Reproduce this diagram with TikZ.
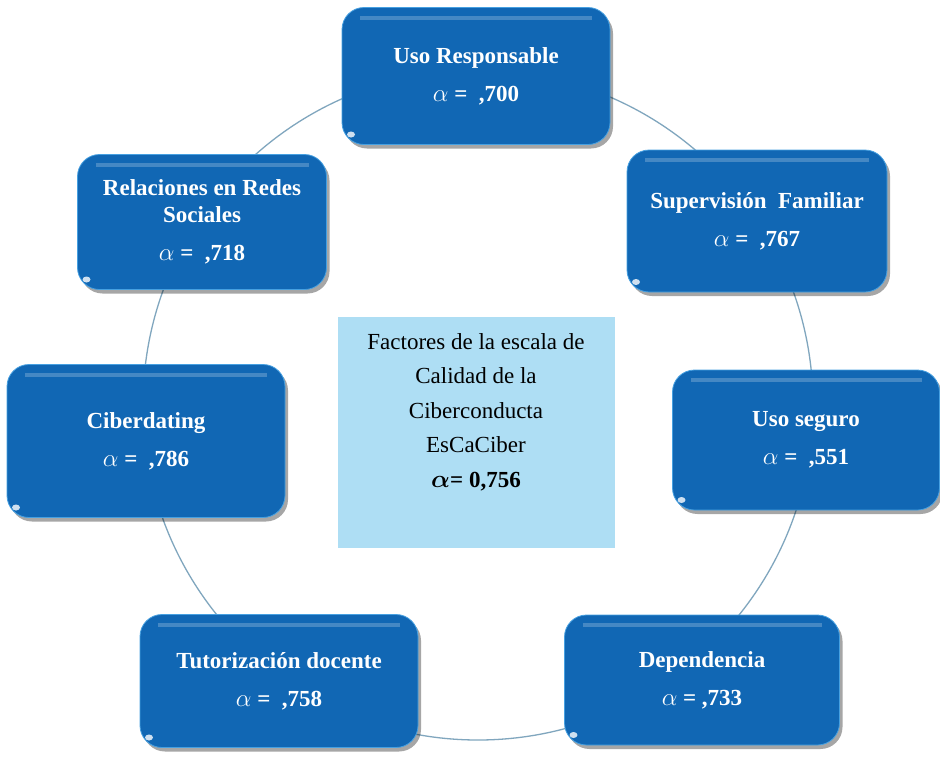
\documentclass[tikz,border=0pt]{standalone}
\usepackage{fontspec}
\setmainfont{Liberation Serif}
\usetikzlibrary{shadows}
\definecolor{factorblue}{RGB}{17,103,180}
\definecolor{factoredge}{RGB}{70,160,225}
\definecolor{ringgray}{RGB}{128,166,190}
\definecolor{coresky}{RGB}{174,222,244}

\begin{document}
\begin{tikzpicture}[x=1pt, y=-1pt,
  factor/.style={draw=factoredge, line width=0.8pt, fill=factorblue,
                 rounded corners=22pt, align=center, text=white,
                 font=\fontsize{23}{27}\selectfont\bfseries,
                 drop shadow={shadow xshift=3pt, shadow yshift=-4pt,
                              opacity=0.35, fill=black},
                 path picture={
                   \draw[sharp corners, white, opacity=0.22, line width=4pt]
                     ([xshift=18pt,yshift=-10pt]path picture bounding box.north west) --
                     ([xshift=-18pt,yshift=-10pt]path picture bounding box.north east);
                   \fill[sharp corners, white, opacity=0.8]
                     ([xshift=9pt,yshift=10pt]path picture bounding box.south west)
                     ellipse [x radius=4pt, y radius=3pt];
                 }},
  core/.style={fill=coresky, minimum width=277, minimum height=231},
  coretext/.style={align=center, font=\fontsize{23}{34.5}\selectfont},
  ring/.style={draw=ringgray, line width=1.3pt}
]
\fill[white] (0,0) rectangle (940,756);
\useasboundingbox (0,0) rectangle (940,756);

\coordinate (hub) at (478,405);
\draw[ring] (hub) circle[radius=335pt];

\node[factor, minimum width=268, minimum height=137] (responsable)  at (476,76)  {%
  Uso Responsable \\[11pt] $\alpha$ =\ \ ,700};
\node[factor, minimum width=260, minimum height=142] (supervision)  at (757,221) {%
  Supervisión\ \ Familiar \\[11pt] $\alpha$ =\ \ ,767};
\node[factor, minimum width=267, minimum height=140] (seguro)       at (806,440) {%
  Uso seguro \\[11pt] $\alpha$ =\ \ ,551};
\node[factor, minimum width=275, minimum height=130] (dependencia)  at (702,680) {%
  Dependencia \\[11pt] $\alpha$ = ,733};
\node[factor, minimum width=278, minimum height=133] (tutorizacion) at (279,681) {%
  Tutorización docente \\[11pt] $\alpha$ =\ \ ,758};
\node[factor, minimum width=278, minimum height=153] (ciberdating)  at (146,441) {%
  Ciberdating \\[11pt] $\alpha$ =\ \ ,786};
\node[factor, minimum width=249, minimum height=135] (relaciones)   at (202,222) {%
  Relaciones en Redes \\ Sociales \\[11pt] $\alpha$ =\ \ ,718};

\node[core] (factores) at (476,432) {};
\node[coretext] (factorestxt) at ([yshift=20pt]factores.center) {%
  Factores de la escala de \\ Calidad de la \\ Ciberconducta \\ EsCaCiber \\
  \textbf{{\boldmath$\alpha$}= 0,756}};
\end{tikzpicture}
\end{document}
